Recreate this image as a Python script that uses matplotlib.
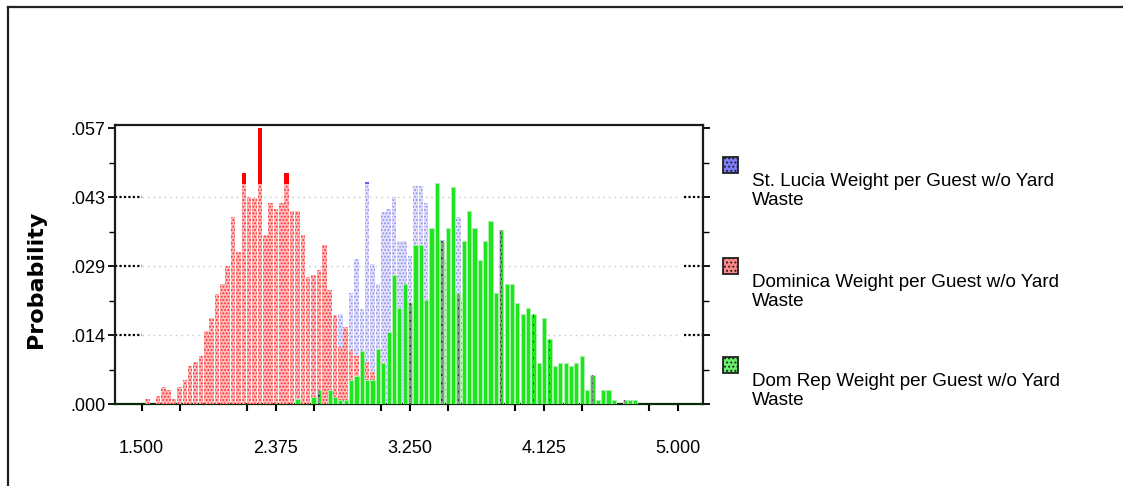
import matplotlib
matplotlib.use('Agg')
import matplotlib.pyplot as plt
from matplotlib.patches import Rectangle
from matplotlib.lines import Line2D
from matplotlib.ticker import MultipleLocator, FixedLocator

plt.rcParams['font.family'] = ['Liberation Sans', 'DejaVu Sans']
plt.rcParams['hatch.linewidth'] = 0.9

# ---------------- data ----------------
bin_start = 1.5365      # centre of first bin
bin_width = 0.035

red_name = "Dominica Weight per Guest w/o Yard\nWaste"
red_first_bin = 0
red_values = [0.0010, 0.0000, 0.0016, 0.0036, 0.0029, 0.0010, 0.0036, 0.0050,
              0.0078, 0.0086, 0.0100, 0.0150, 0.0178, 0.0228, 0.0249, 0.0285,
              0.0387, 0.0314, 0.0477, 0.0428, 0.0427, 0.0570, 0.0349, 0.0415,
              0.0404, 0.0415, 0.0477, 0.0399, 0.0399, 0.0349, 0.0263, 0.0266,
              0.0278, 0.0328, 0.0236, 0.0185, 0.0117, 0.0160, 0.0111, 0.0100,
              0.0090, 0.0086, 0.0066, 0.0030, 0.0010]

blue_name = "St. Lucia Weight per Guest w/o Yard\nWaste"
blue_first_bin = 33
blue_values = [0.0020, 0.0060, 0.0100, 0.0186, 0.0150, 0.0229, 0.0300, 0.0196,
               0.0460, 0.0290, 0.0248, 0.0397, 0.0404, 0.0429, 0.0338, 0.0338,
               0.0307, 0.0450, 0.0450, 0.0415, 0.0340, 0.0360, 0.0339, 0.0300,
               0.0280, 0.0387, 0.0220, 0.0160, 0.0120, 0.0080, 0.0050, 0.0030,
               0.0010]

green_name = "Dom Rep Weight per Guest w/o Yard\nWaste"
green_first_bin = 28
green_values = [0.0010, 0.0000, 0.0000, 0.0014, 0.0028, 0.0000, 0.0028, 0.0014,
                0.0009, 0.0009, 0.0049, 0.0058, 0.0110, 0.0049, 0.0049, 0.0114,
                0.0085, 0.0149, 0.0266, 0.0198, 0.0248, 0.0208, 0.0328, 0.0328,
                0.0215, 0.0365, 0.0458, 0.0338, 0.0365, 0.0448, 0.0229, 0.0338,
                0.0399, 0.0365, 0.0298, 0.0338, 0.0379, 0.0229, 0.0359, 0.0248,
                0.0248, 0.0208, 0.0186, 0.0198, 0.0186, 0.0085, 0.0178, 0.0135,
                0.0078, 0.0085, 0.0085, 0.0078, 0.0085, 0.0099, 0.0029, 0.0059,
                0.0009, 0.0029, 0.0029, 0.0009, 0.0000, 0.0009, 0.0009, 0.0009]
green_shaded_bins = [32, 49, 55, 58, 66, 72, 75, 83, 89]

x_ticks = [1.5, 2.375, 3.25, 4.125, 5.0]
x_tick_labels = ['1.500', '2.375', '3.250', '4.125', '5.000']
y_ticks = [0.0, 0.01425, 0.0285, 0.04275, 0.057]
y_tick_labels = ['.000', '.014', '.029', '.043', '.057']
y_label = "Probability"

# ---------------- figure ----------------
W, H = 1123, 486
fig = plt.figure(figsize=(W / 100, H / 100), dpi=100)
ax = fig.add_axes([115 / W, 1 - 404 / H, (703 - 115) / W, (404 - 125) / H])
x_lo, x_hi = 1.326, 5.163
ax.set_xlim(x_lo, x_hi)
ax.set_ylim(0, 0.0577)

def centres(first, n):
    return [bin_start + (first + i) * bin_width for i in range(n)]

solid_limit = 0.0456

# blue (back)
bx = centres(blue_first_bin, len(blue_values))
ax.bar(bx, [min(v, solid_limit) for v in blue_values], width=0.030,
       color='#e2e2fb', edgecolor='#8d8df0', hatch='.....', linewidth=0, zorder=2)
ax.bar(bx, [max(v - solid_limit, 0) for v in blue_values],
       bottom=solid_limit, width=0.030, color='#6060ff', linewidth=0, zorder=2)

# red
rx = centres(red_first_bin, len(red_values))
ax.bar(rx, [min(v, solid_limit) for v in red_values], width=0.030,
       color='#ffbcbc', edgecolor='#ff2a2a', hatch='.....', linewidth=0, zorder=3)
ax.bar(rx, [max(v - solid_limit, 0) for v in red_values],
       bottom=solid_limit, width=0.030, color='#ff0000', linewidth=0, zorder=3)

# green (front)
gx = centres(green_first_bin, len(green_values))
ax.bar(gx, green_values, width=0.027, color='#1ee61e', edgecolor='#a8f0a8',
       linewidth=0.7, zorder=4)
sh_x = [bin_start + b * bin_width for b in green_shaded_bins]
sh_v = [green_values[b - green_first_bin] for b in green_shaded_bins]
ax.bar(sh_x, sh_v, width=0.011, color='#8a9a8a', edgecolor='#303030',
       hatch='....', linewidth=0, zorder=5)

# grid lines
for yv in y_ticks[1:4]:
    ax.plot([x_ticks[0], x_ticks[-1]], [yv, yv], color='#c4c4c4', lw=1.0,
            linestyle=(0, (1, 3)), zorder=1)
    ax.plot([x_lo, x_ticks[0]], [yv, yv], color='black', lw=1.6,
            linestyle=(0, (1, 1)), zorder=1)
    ax.plot([x_ticks[-1] + 0.04, x_hi], [yv, yv], color='black', lw=1.6,
            linestyle=(0, (1, 1)), zorder=1)

# spines / ticks
for s in ax.spines.values():
    s.set_linewidth(1.6)
    s.set_color('#1a1a1a')
ax.spines['bottom'].set_color('#0a2a0a')
ax.set_xticks(x_ticks)
ax.set_xticklabels(x_tick_labels)
ax.xaxis.set_minor_locator(MultipleLocator(0.4375))
ax.set_yticks(y_ticks)
ax.set_yticklabels(y_tick_labels)
ax.yaxis.set_minor_locator(FixedLocator([0.007125, 0.021375, 0.035625, 0.049875]))
ax.tick_params(axis='x', which='both', direction='out', length=5, width=1.5,
               labelsize=13, pad=21, top=False)
ax.tick_params(axis='y', which='major', direction='out', length=5, width=1.3,
               labelsize=13, pad=2, left=True, right=True)
ax.tick_params(axis='y', which='minor', direction='out', length=4, width=1.0,
               left=True, right=True)

fig.text(36 / W, 1 - 279 / H, y_label, rotation=90, ha='center', va='center',
         fontsize=16, fontweight='bold', family=['DejaVu Sans'])

# legend (drawn by hand like the original side panel)
legend_items = [(blue_name, '#7d7dfa', 157), (red_name, '#ff8a8a', 258),
                (green_name, '#6af06a', 357)]
for name, col, ytop in legend_items:
    fig.add_artist(Rectangle((723 / W, 1 - (ytop + 16) / H), 15 / W, 16 / H,
                             facecolor=col, edgecolor='#202020', lw=1.3,
                             hatch='....', transform=fig.transFigure))
    fig.text(752 / W, 1 - (ytop + 34) / H, name, ha='left', va='center',
             fontsize=13.6, linespacing=1.2)

# outer frame
fig.add_artist(Line2D([8 / W, 1], [1 - 7 / H, 1 - 7 / H], color='#222222', lw=1.6))
fig.add_artist(Line2D([8 / W, 8 / W], [0, 1 - 7 / H], color='#222222', lw=1.6))

fig.savefig('out.png', dpi=100)
